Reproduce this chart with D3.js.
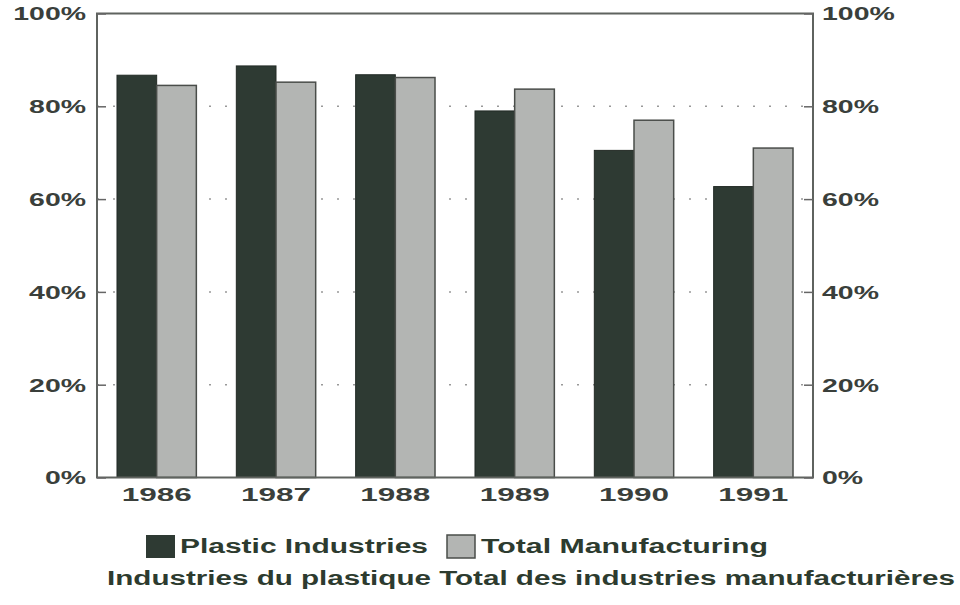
<!DOCTYPE html>
<html><head><meta charset="utf-8">
<script src="https://cdn.jsdelivr.net/npm/d3@7"></script>
<style>body{margin:0;background:#fff}svg{display:block}</style>
</head><body>
<svg id="c" width="960" height="605"></svg>
<script>
const years = ["1986","1987","1988","1989","1990","1991"];
const plastic = [86.7, 88.7, 86.8, 79.0, 70.5, 62.7];
const manufacturing = [84.5, 85.2, 86.2, 83.7, 77.0, 71.0];
const yTicks = [0, 20, 40, 60, 80, 100];
const seriesNames = ["Plastic Industries", "Total Manufacturing"];
const subtitle = "Industries du plastique Total des industries manufacturières";

const svg = d3.select("#c");
const L = 97, R = 813, T = 13.5, B = 477.5;
const x = d3.scaleBand().domain(years).range([L, R]).paddingInner(0.335).paddingOuter(0.1675);
const x1 = d3.scaleBand().domain([0,1]).range([0, x.bandwidth()]);
const y = d3.scaleLinear().domain([0, 100]).range([B, T]);
const textCol = "#3a3f3b";
const font = "'Liberation Sans', Arial, sans-serif";

function stretch(sel, factor) {
  sel.each(function() {
    const w = this.getComputedTextLength();
    d3.select(this).attr("textLength", w * factor).attr("lengthAdjust", "spacingAndGlyphs");
  });
}

// gridlines
svg.append("g").selectAll("line").data(yTicks.filter(d => d > 0 && d < 100)).join("line")
  .attr("x1", L).attr("x2", R).attr("y1", d => y(d)).attr("y2", d => y(d))
  .attr("stroke", "#999").attr("stroke-width", 1.5).attr("stroke-dasharray", "2,14");

// bars
const g = svg.append("g");
g.selectAll("rect.p").data(plastic).join("rect").attr("class","p")
  .attr("x", (d,i) => x(years[i]) + x1(0)).attr("width", x1.bandwidth())
  .attr("y", d => y(d)).attr("height", d => B - y(d))
  .attr("fill", "#2e3a33").attr("stroke", "#222a25").attr("stroke-width", 1);
g.selectAll("rect.m").data(manufacturing).join("rect").attr("class","m")
  .attr("x", (d,i) => x(years[i]) + x1(1)).attr("width", x1.bandwidth())
  .attr("y", d => y(d)).attr("height", d => B - y(d))
  .attr("fill", "#b3b5b3").attr("stroke", "#4a4d4a").attr("stroke-width", 1.5);

// frame
svg.append("rect").attr("x", L).attr("y", T).attr("width", R - L).attr("height", B - T)
  .attr("fill", "none").attr("stroke", "#5f635f").attr("stroke-width", 2);

const fmt = d => d + "%";
const la = svg.append("g").attr("transform", `translate(${L},0)`)
  .call(d3.axisLeft(y).tickValues(yTicks).tickFormat(fmt).tickSize(-9).tickPadding(11));
const ra = svg.append("g").attr("transform", `translate(${R},0)`)
  .call(d3.axisRight(y).tickValues(yTicks).tickFormat(fmt).tickSize(-9).tickPadding(9));
[la, ra].forEach(a => {
  a.select(".domain").remove();
  a.selectAll(".tick line").attr("stroke", "#666").attr("stroke-width", 1.5);
  a.selectAll("text").attr("font-family", font).attr("font-weight", "bold")
    .attr("font-size", 18).attr("fill", textCol).attr("dy", "0.36em");
  stretch(a.selectAll("text"), 1.58);
});

const ba = svg.append("g").attr("transform", `translate(0,${B})`)
  .call(d3.axisBottom(x).tickSize(0).tickPadding(11));
ba.select(".domain").remove();
ba.selectAll("text").attr("font-family", font).attr("font-weight", "bold")
  .attr("font-size", 18).attr("fill", textCol);
stretch(ba.selectAll("text"), 1.75);

// legend
const leg = svg.append("g");
leg.append("rect").attr("x", 146).attr("y", 535).attr("width", 29).attr("height", 23).attr("fill", "#2e3a33");
leg.append("rect").attr("x", 447).attr("y", 535).attr("width", 28).attr("height", 23)
  .attr("fill", "#b3b5b3").attr("stroke", "#4a4d4a").attr("stroke-width", 1.5);
leg.append("text").attr("x", 180).attr("y", 553).text(seriesNames[0])
  .attr("textLength", 248).attr("lengthAdjust", "spacingAndGlyphs");
leg.append("text").attr("x", 481).attr("y", 553).text(seriesNames[1])
  .attr("textLength", 287).attr("lengthAdjust", "spacingAndGlyphs");
leg.append("text").attr("x", 107).attr("y", 585).text(subtitle)
  .attr("textLength", 848).attr("lengthAdjust", "spacingAndGlyphs");
leg.selectAll("text").attr("font-family", font).attr("font-weight", "bold")
  .attr("font-size", 20).attr("fill", "#2d3b2f");
</script>
</body></html>
